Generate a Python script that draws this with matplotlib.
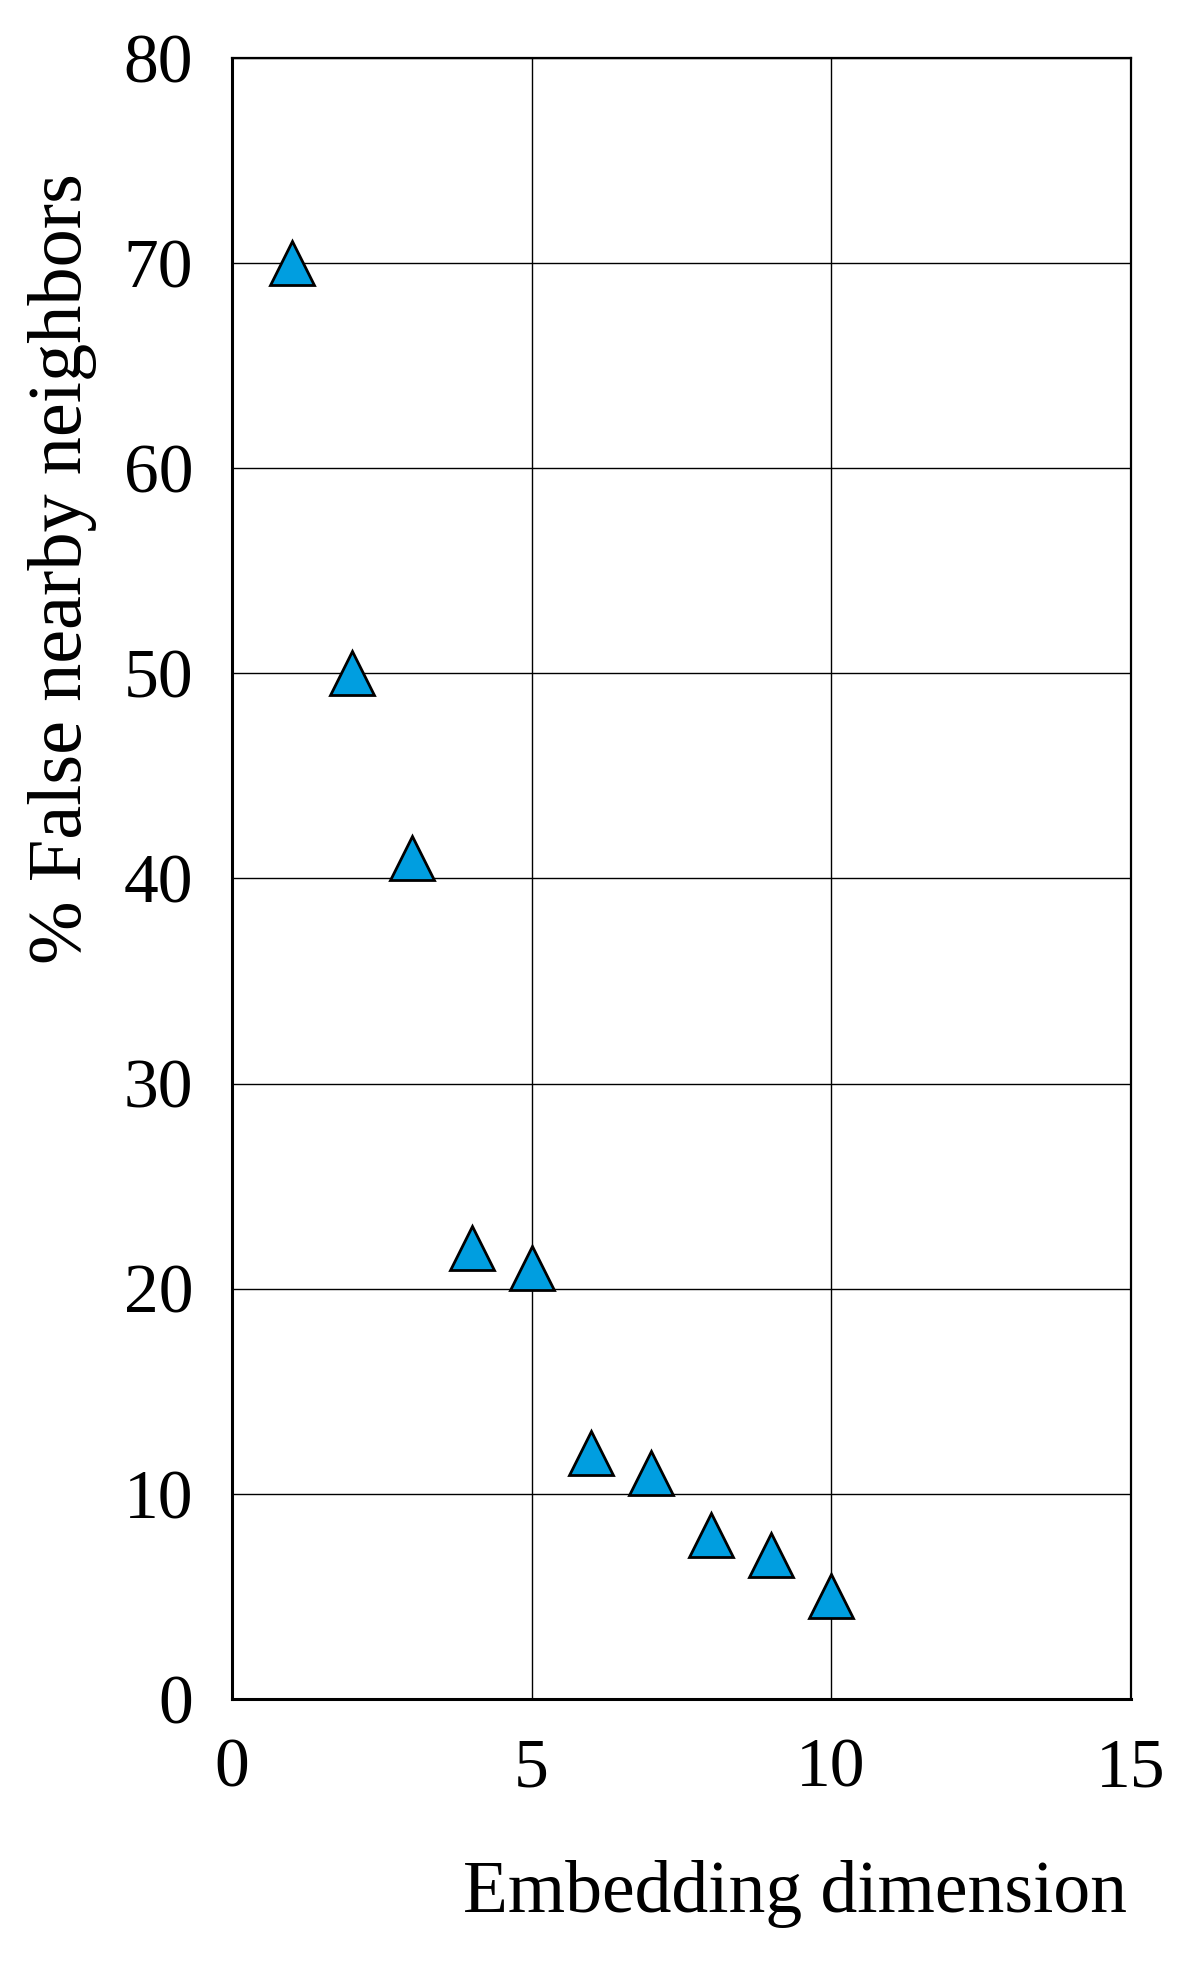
import matplotlib
matplotlib.use("Agg")
import matplotlib.pyplot as plt

dimension = [1, 2, 3, 4, 5, 6, 7, 8, 9, 10]
false_pct = [70, 50, 41, 22, 21, 12, 11, 8, 7, 5]
x_ticks = [0, 5, 10, 15]
y_ticks = [0, 10, 20, 30, 40, 50, 60, 70, 80]

plt.rcParams['font.family'] = ['Liberation Serif', 'DejaVu Serif']

fig = plt.figure(figsize=(11.9, 19.63), dpi=100)
ax = fig.add_axes([0.195, 0.1345, 0.755, 0.836])

ax.set_xlim(0, 15)
ax.set_ylim(0, 80)
ax.set_xticks(x_ticks)
ax.set_yticks(y_ticks)
ax.grid(True, color='black', linewidth=1.0)
ax.set_axisbelow(True)
for s in ax.spines.values():
    s.set_linewidth(1.6)
ax.spines['left'].set_linewidth(2.2)
ax.spines['bottom'].set_linewidth(2.2)
ax.tick_params(length=0, labelsize=50)
ax.tick_params(axis='y', pad=28)
ax.tick_params(axis='x', pad=28)

ax.plot(dimension, false_pct, linestyle='none', marker='^', markersize=31,
        markerfacecolor='#009ee0', markeredgecolor='black', markeredgewidth=2.0,
        clip_on=False, zorder=5)

fig.text(1127/1190, 1 - 1912/1963, 'Embedding dimension', ha='right', va='baseline',
         fontsize=53)
fig.text(63/1190, 1 - 569/1963, '% False nearby neighbors', rotation=90,
         ha='center', va='center', fontsize=55)

fig.savefig('out.png', dpi=100, facecolor='white')
